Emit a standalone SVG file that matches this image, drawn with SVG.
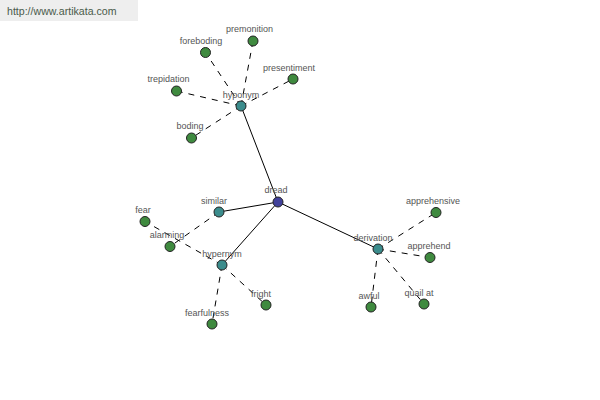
<svg xmlns="http://www.w3.org/2000/svg" width="600" height="400" viewBox="0 0 600 400">
<style>
text{font-family:"Liberation Sans",Arial,sans-serif;font-size:9px;fill:#555;text-anchor:middle}
.solid{stroke:#000;stroke-width:1;fill:none}
.dash{stroke:#000;stroke-width:1;fill:none;stroke-dasharray:6,6}
.root{fill:#41419a;stroke:#222;stroke-width:1}
.mid{fill:#3b8c8c;stroke:#222;stroke-width:1}
.leaf{fill:#3f8a3f;stroke:#222;stroke-width:1}
</style>
<rect x="0" y="0" width="138" height="21" fill="#eeeeee"/>
<text x="7" y="15" style="font-size:10.6px;text-anchor:start;fill:#4a5a4a">http://www.artikata.com</text>
<g id="connectors">
<line class="solid" x1="278" y1="202" x2="241" y2="106"/>
<line class="solid" x1="278" y1="202" x2="219" y2="212"/>
<line class="solid" x1="278" y1="202" x2="222" y2="265"/>
<line class="solid" x1="278" y1="202" x2="378" y2="249"/>
<line class="dash" x1="241" y1="106" x2="205.5" y2="52.5"/>
<line class="dash" x1="241" y1="106" x2="253" y2="41"/>
<line class="dash" x1="241" y1="106" x2="293" y2="79"/>
<line class="dash" x1="241" y1="106" x2="176.5" y2="91"/>
<line class="dash" x1="241" y1="106" x2="191.5" y2="138"/>
<line class="dash" x1="219" y1="212" x2="170" y2="246.5"/>
<line class="dash" x1="222" y1="265" x2="145" y2="221.5"/>
<line class="dash" x1="222" y1="265" x2="266" y2="305"/>
<line class="dash" x1="222" y1="265" x2="212" y2="324"/>
<line class="dash" x1="378" y1="249" x2="436" y2="212.5"/>
<line class="dash" x1="378" y1="249" x2="430" y2="257.5"/>
<line class="dash" x1="378" y1="249" x2="371" y2="307"/>
<line class="dash" x1="378" y1="249" x2="424" y2="304"/>
</g>
<g id="hyponym"><circle class="mid" cx="241" cy="106" r="5"/><text x="241" y="98">hyponym</text></g>
<g id="similar"><circle class="mid" cx="219" cy="212" r="5"/><text x="214" y="204">similar</text></g>
<g id="hypernym"><circle class="mid" cx="222" cy="265" r="5"/><text x="222" y="257">hypernym</text></g>
<g id="derivation"><circle class="mid" cx="378" cy="249" r="5"/><text x="373" y="241">derivation</text></g>
<g id="dread"><circle class="root" cx="278" cy="202" r="5"/><text x="276" y="193">dread</text></g>
<g id="foreboding"><circle class="leaf" cx="205.5" cy="52.5" r="5"/><text x="201" y="44">foreboding</text></g>
<g id="premonition"><circle class="leaf" cx="253" cy="41" r="5"/><text x="249.5" y="32">premonition</text></g>
<g id="presentiment"><circle class="leaf" cx="293" cy="79" r="5"/><text x="289" y="71">presentiment</text></g>
<g id="trepidation"><circle class="leaf" cx="176.5" cy="91" r="5"/><text x="168.5" y="82">trepidation</text></g>
<g id="boding"><circle class="leaf" cx="191.5" cy="138" r="5"/><text x="190" y="129">boding</text></g>
<g id="fear"><circle class="leaf" cx="145" cy="221.5" r="5"/><text x="143" y="213">fear</text></g>
<g id="alarming"><circle class="leaf" cx="170" cy="246.5" r="5"/><text x="167" y="238">alarming</text></g>
<g id="fright"><circle class="leaf" cx="266" cy="305" r="5"/><text x="261" y="297">fright</text></g>
<g id="fearfulness"><circle class="leaf" cx="212" cy="324" r="5"/><text x="207" y="316">fearfulness</text></g>
<g id="apprehensive"><circle class="leaf" cx="436" cy="212.5" r="5"/><text x="433" y="204">apprehensive</text></g>
<g id="apprehend"><circle class="leaf" cx="430" cy="257.5" r="5"/><text x="429" y="249">apprehend</text></g>
<g id="awful"><circle class="leaf" cx="371" cy="307" r="5"/><text x="369" y="299">awful</text></g>
<g id="quail-at"><circle class="leaf" cx="424" cy="304" r="5"/><text x="419" y="296">quail at</text></g>
</svg>
